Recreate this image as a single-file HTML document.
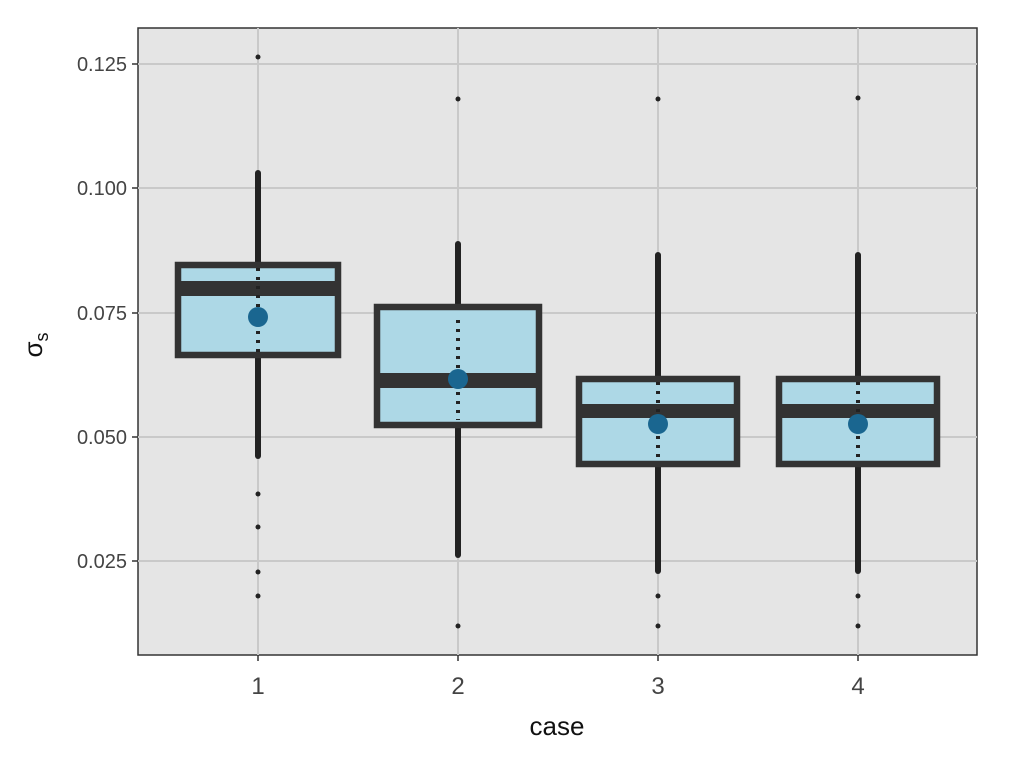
<!DOCTYPE html>
<html><head><style>body{margin:0;background:#fff}</style></head><body>
<svg width="1024" height="760" xmlns="http://www.w3.org/2000/svg" font-family="Liberation Sans, sans-serif">
<rect x="138" y="28" width="839" height="627" fill="#e5e5e5" stroke="#333" stroke-width="1.5"/>
<g stroke="#c9c9c9" stroke-width="2">
<line x1="138" x2="977" y1="64" y2="64"/><line x1="138" x2="977" y1="188" y2="188"/><line x1="138" x2="977" y1="313" y2="313"/><line x1="138" x2="977" y1="437" y2="437"/><line x1="138" x2="977" y1="561" y2="561"/>
<line y1="28" y2="655" x1="258" x2="258"/><line y1="28" y2="655" x1="458" x2="458"/><line y1="28" y2="655" x1="658" x2="658"/><line y1="28" y2="655" x1="858" x2="858"/>
</g>
<g stroke="#333" stroke-width="1.5">
<line x1="132" x2="138" y1="64" y2="64"/><line x1="132" x2="138" y1="188" y2="188"/><line x1="132" x2="138" y1="313" y2="313"/><line x1="132" x2="138" y1="437" y2="437"/><line x1="132" x2="138" y1="561" y2="561"/>
<line y1="655" y2="661" x1="258" x2="258"/><line y1="655" y2="661" x1="458" x2="458"/><line y1="655" y2="661" x1="658" x2="658"/><line y1="655" y2="661" x1="858" x2="858"/>
</g>
<g fill="#444" font-size="20" text-anchor="end">
<text x="127" y="71">0.125</text><text x="127" y="195">0.100</text><text x="127" y="320">0.075</text><text x="127" y="444">0.050</text><text x="127" y="568">0.025</text>
</g>
<g fill="#444" font-size="24" text-anchor="middle">
<text x="258" y="694">1</text><text x="458" y="694">2</text><text x="658" y="694">3</text><text x="858" y="694">4</text>
</g>
<text x="557" y="735" font-size="26" text-anchor="middle" fill="#111">case</text>
<text transform="translate(42,345) rotate(-90)" font-size="26" text-anchor="middle" fill="#111">σ<tspan font-size="18" dy="6">s</tspan></text>
<g stroke="#222" stroke-width="6" stroke-linecap="round">
<line x1="258" x2="258" y1="173" y2="456"/>
<line x1="458" x2="458" y1="244" y2="555"/>
<line x1="658" x2="658" y1="255" y2="571"/>
<line x1="858" x2="858" y1="255" y2="571"/>
</g>
<g fill="#222">
<circle cx="258" cy="57" r="2.5"/><circle cx="258" cy="494" r="2.5"/><circle cx="258" cy="527" r="2.5"/><circle cx="258" cy="572" r="2.5"/><circle cx="258" cy="596" r="2.5"/>
<circle cx="458" cy="99" r="2.5"/><circle cx="458" cy="626" r="2.5"/>
<circle cx="658" cy="99" r="2.5"/><circle cx="658" cy="596" r="2.5"/><circle cx="658" cy="626" r="2.5"/>
<circle cx="858" cy="98" r="2.5"/><circle cx="858" cy="596" r="2.5"/><circle cx="858" cy="626" r="2.5"/>
</g>
<g fill="#add8e6" stroke="#333" stroke-width="6.5">
<rect x="178" y="265" width="160" height="90"/>
<rect x="377" y="307" width="162" height="118"/>
<rect x="579" y="379" width="158" height="85"/>
<rect x="779" y="379" width="158" height="85"/>
</g>
<g fill="#333">
<rect x="178" y="281" width="160" height="15"/>
<rect x="377" y="373" width="162" height="15"/>
<rect x="579" y="404" width="158" height="14"/>
<rect x="779" y="404" width="158" height="14"/>
</g>
<g stroke="#222" stroke-width="4" stroke-dasharray="3 6">
<line x1="258" x2="258" y1="268" y2="352"/>
<line x1="458" x2="458" y1="320" y2="420"/>
<line x1="658" x2="658" y1="382" y2="461"/>
<line x1="858" x2="858" y1="382" y2="461"/>
</g>
<g fill="#1a6690">
<circle cx="258" cy="317" r="10"/><circle cx="458" cy="379" r="10"/><circle cx="658" cy="424" r="10"/><circle cx="858" cy="424" r="10"/>
</g>
</svg>
</body></html>
